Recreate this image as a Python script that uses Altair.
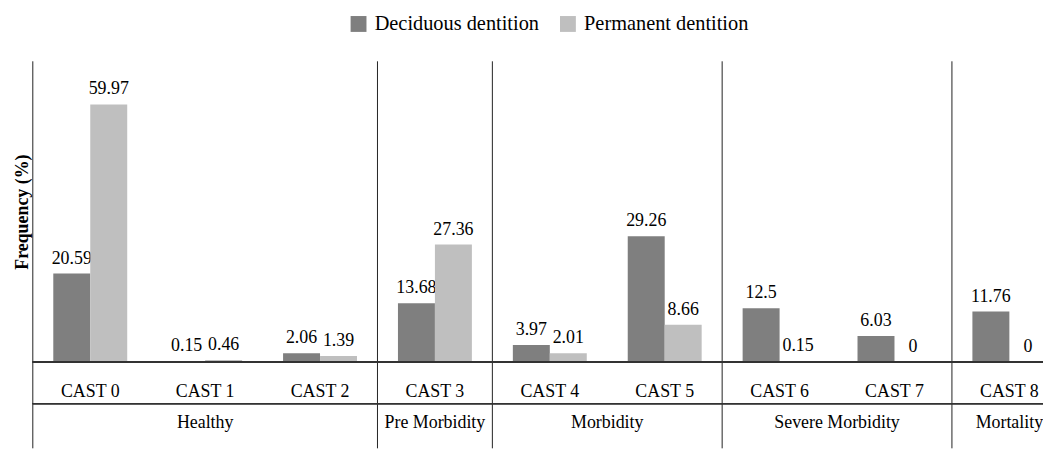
import altair as alt
import pandas as pd

categories = ["CAST 0", "CAST 1", "CAST 2", "CAST 3", "CAST 4",
              "CAST 5", "CAST 6", "CAST 7", "CAST 8"]
deciduous = [20.59, 0.15, 2.06, 13.68, 3.97, 29.26, 12.5, 6.03, 11.76]
permanent = [59.97, 0.46, 1.39, 27.36, 2.01, 8.66, 0.15, 0, 0]
series_names = ["Deciduous dentition", "Permanent dentition"]
series_colors = ["#7f7f7f", "#bfbfbf"]
groups = ["Healthy", "Pre Morbidity", "Morbidity", "Severe Morbidity", "Mortality"]
group_first = ["CAST 0", "CAST 3", "CAST 4", "CAST 6", "CAST 8"]
group_last = ["CAST 2", "CAST 3", "CAST 5", "CAST 7", "CAST 8"]

FONT = "Liberation Serif, Times New Roman, DejaVu Serif, serif"
W = 1018          # visible plot width
XR = 1042         # full range of the category scale (last band is cropped)
H = 303           # bar area height

rows = []
for c, d, p in zip(categories, deciduous, permanent):
    rows.append({"cat": c, "series": series_names[0], "value": d, "label": f"{d:g}"})
    rows.append({"cat": c, "series": series_names[1], "value": p, "label": f"{p:g}"})
df = pd.DataFrame(rows)

# group label anchors
g_rows = []
for g, f, l in zip(groups, group_first, group_last):
    i0, i1 = categories.index(f), categories.index(l)
    mid = (i0 + i1) / 2
    if mid == int(mid):
        g_rows.append({"group": g, "cat": categories[int(mid)], "kind": "center"})
    else:
        g_rows.append({"group": g, "cat": categories[int(mid)], "kind": "edge"})
gdf = pd.DataFrame(g_rows)
sep_df = pd.DataFrame({"cat": group_first})
cat_df = pd.DataFrame({"cat": categories})

x_scale = alt.Scale(domain=categories, range=[0, XR], paddingInner=0, paddingOuter=0)
xo_scale = alt.Scale(domain=series_names, paddingInner=0, paddingOuter=0.554)
y_scale = alt.Scale(domain=[0, 70], nice=False)

xenc = alt.X("cat:N", scale=x_scale, axis=None, sort=categories)
xoenc = alt.XOffset("series:N", scale=xo_scale, sort=series_names)

base = alt.Chart(df)

labels = base.mark_text(dy=-10, baseline="alphabetic", fontSize=18, font=FONT,
                        color="black").encode(
    x=xenc, xOffset=xoenc,
    y=alt.Y("value:Q", scale=y_scale),
    text="label:N",
)

bars = base.mark_bar().encode(
    x=xenc, xOffset=xoenc,
    y=alt.Y("value:Q", scale=y_scale,
            axis=alt.Axis(title="Frequency (%)", labels=False, ticks=False,
                          domain=False, grid=False, titleFont=FONT,
                          titleFontSize=18, titleFontWeight="bold",
                          titleColor="black", titleX=-10,
                          titleBaseline="middle")),
    color=alt.Color("series:N",
                    scale=alt.Scale(domain=series_names, range=series_colors),
                    legend=alt.Legend(title=None, orient="none", legendX=318,
                                      legendY=-48, direction="horizontal",
                                      symbolType="square", symbolSize=256,
                                      symbolStrokeWidth=0, labelFontSize=20.5,
                                      labelFont=FONT, labelColor="black",
                                      labelLimit=400,
                                      columnPadding=18, labelOffset=6,
                                      padding=0)),
)

seps = alt.Chart(sep_df).mark_rule(color="#222", strokeWidth=1).encode(
    x=alt.X("cat:N", scale=x_scale, axis=None, sort=categories, bandPosition=0),
    y=alt.value(0), y2=alt.value(390),
)

baseline = alt.Chart(cat_df).mark_rule(color="#333", strokeWidth=1.3).encode(
    x=alt.value(0), x2=alt.value(XR), y=alt.value(H),
)
rowline = alt.Chart(cat_df).mark_rule(color="#333", strokeWidth=1).encode(
    x=alt.value(0), x2=alt.value(XR), y=alt.value(345),
)

cat_labels = alt.Chart(cat_df).mark_text(baseline="alphabetic", fontSize=18,
                                         font=FONT, color="black").encode(
    x=alt.X("cat:N", scale=x_scale, axis=None, sort=categories),
    y=alt.value(338.5), text="cat:N",
)

g_center = alt.Chart(gdf).transform_filter(alt.datum.kind == "center").mark_text(
    baseline="alphabetic", fontSize=18, font=FONT, color="black").encode(
    x=alt.X("cat:N", scale=x_scale, axis=None, sort=categories, bandPosition=0.5),
    y=alt.value(370), text="group:N",
)
g_edge = alt.Chart(gdf).transform_filter(alt.datum.kind == "edge").mark_text(
    baseline="alphabetic", fontSize=18, font=FONT, color="black").encode(
    x=alt.X("cat:N", scale=x_scale, axis=None, sort=categories, bandPosition=1),
    y=alt.value(370), text="group:N",
)

chart = alt.layer(labels, bars, seps, baseline, rowline, cat_labels,
                  g_center, g_edge).properties(
    width=W, height=H,
    autosize=alt.AutoSizeParams(type="none"),
    padding={"left": 25, "top": 52, "right": 0, "bottom": 90},
).configure_view(stroke=None)

chart.save("out.html", embed_options={"renderer": "svg", "actions": False})
